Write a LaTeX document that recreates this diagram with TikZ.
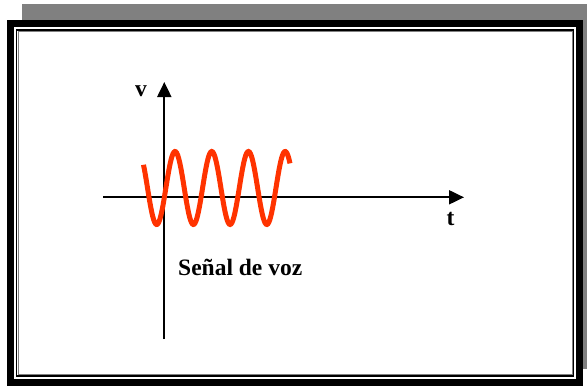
\documentclass[tikz,border=0pt]{standalone}
\usepackage{fontspec}
\setmainfont{Liberation Serif}
\usepackage{tikz}
\usetikzlibrary{arrows.meta}
\definecolor{senal}{HTML}{FF3300}
\definecolor{sombra}{HTML}{808080}

\begin{document}
\begin{tikzpicture}[x=1pt,y=-1pt,
  eje/.style={line width=2pt,-{Triangle[length=15pt,width=14pt]}},
  etiq/.style={font=\fontsize{23.5}{23.5}\selectfont\bfseries,inner sep=0pt}]
\useasboundingbox (0,0) rectangle (587,386);
% marco
\fill[sombra] (22,4) rectangle (587,369);
\draw[line width=7pt,fill=white] (10.2,23.5) rectangle (579.2,382.5);
\draw[line width=1.5pt] (16.3,29.8) rectangle (573.6,376);
\draw[line width=0.6pt,sombra] (17.8,31.3) rectangle (572.1,374.5);
% ejes
\coordinate (vbot) at (164.3,339);\coordinate (vtop) at (164.3,82);
\coordinate (tizq) at (103,197.3);\coordinate (tder) at (464,197.3);
\draw[eje] (vbot)--(vtop);
\draw[eje] (tizq)--(tder);
\node[etiq,anchor=base] (v) at (141,96) {v};
\node[etiq,anchor=base] (t) at (450.5,225) {t};
% senal
\draw[senal,line width=5pt,domain=143.5:290,samples=160]
  plot (\x,{188+36.5*cos(9.8093*(\x-156.7))});
\node[etiq,anchor=base west] (voz) at (178,275) {Señal de voz};
\end{tikzpicture}
\end{document}
